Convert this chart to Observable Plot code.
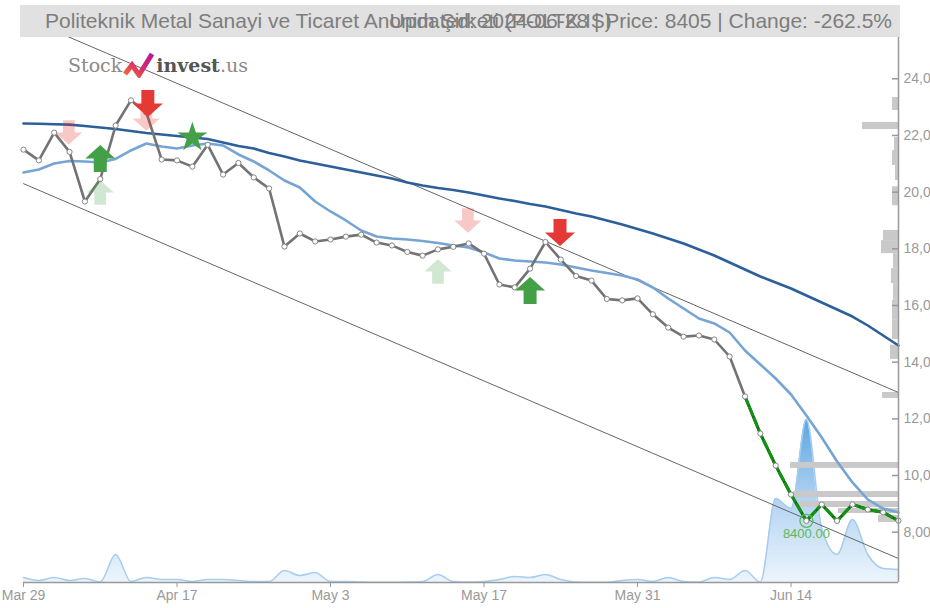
<!DOCTYPE html>
<html><head><meta charset="utf-8">
<script src="https://cdn.jsdelivr.net/npm/d3@7"></script>
<script src="https://cdn.jsdelivr.net/npm/@observablehq/plot@0.6"></script>
<style>
html,body{margin:0;padding:0;background:#fff;overflow:hidden;width:930px;height:608px;}
#wrap{position:relative;width:930px;height:608px;font-family:"Liberation Sans",Arial,sans-serif;}
#title{position:absolute;left:20px;top:5px;width:880px;height:32px;background:#e1e1e1;color:#7d7d7d;font-size:21px;line-height:32px;white-space:nowrap;overflow:hidden;}
#title .l{position:absolute;left:25px;top:0;}
#title .r{position:absolute;right:8px;top:0;}
#chart{position:absolute;left:0;top:37px;width:930px;height:571px;}
#chart svg.plot, #chart > svg{position:absolute;left:0;top:0;}
#logo{position:absolute;left:68px;top:50px;height:30px;white-space:nowrap;font-family:"DejaVu Serif",serif;font-size:19px;line-height:30px;}
#logo .s{color:#8a8a8a;}
#logo .i{color:#555;font-weight:bold;}
#logo svg{vertical-align:-6px;margin:0 1px;}
</style></head>
<body>
<div id="wrap">
  <div id="title"><span class="l">Politeknik Metal Sanayi ve Ticaret Anonim Şirketi (POLTK.IS)</span><span class="r">Updated: 2024-06-28 | Price: 8405 | Change: -262.5%</span></div>
  <div id="chart"></div>
  <div id="logo"><span class="s">Stock</span><svg width="32" height="26" viewBox="0 0 32 26"><defs><linearGradient id="lg" x1="0" x2="1" y1="1" y2="0"><stop offset="0" stop-color="#f26b3a"/><stop offset="0.5" stop-color="#d8286e"/><stop offset="1" stop-color="#b5179e"/></linearGradient></defs><polyline points="2,22 9,13 16,23 29,2" fill="none" stroke="url(#lg)" stroke-width="5" stroke-linejoin="miter"/></svg><span class="i">invest</span><span class="s">.us</span></div>
</div>
<script>
// ---- data ----
const tickIdx = [0, 10, 20, 30, 40, 50];
const tickLabels = ["Mar 29", "Apr 17", "May 3", "May 17", "May 31", "Jun 14"];
const yTicks = [8000, 10000, 12000, 14000, 16000, 18000, 20000, 22000, 24000];

const close = [21500, 21120, 22100, 21420, 19670, 20460, 22350, 23240, 22810, 21150,
  21120, 20900, 21670, 20620, 21030, 20520, 20130, 18080, 18540, 18260,
  18330, 18430, 18500, 18220, 18120, 17890, 17760, 17980, 18070, 18190,
  17830, 16740, 16640, 17300, 18240, 17620, 17040, 16880, 16230, 16180,
  16250, 15690, 15220, 14900, 14940, 14800, 14200, 12790, 11480, 10350,
  9330, 8400, 8980, 8400, 8980, 8800, 8700, 8405];

const maLong = [22423, 22412, 22398, 22381, 22335, 22282, 22229, 22158, 22088, 22035,
  21982, 21929, 21876, 21753, 21629, 21541, 21382, 21259, 21117, 21011,
  20906, 20800, 20694, 20588, 20482, 20341, 20235, 20147, 20076, 19988,
  19882, 19776, 19688, 19582, 19494, 19371, 19247, 19141, 19000, 18859,
  18700, 18541, 18364, 18188, 17976, 17764, 17517, 17270, 17023, 16811,
  16600, 16353, 16106, 15858, 15611, 15294, 14941, 14588];

const maShort = [20694, 20800, 21011, 21100, 21082, 21047, 21170, 21470, 21717, 21611,
  21541, 21647, 21717, 21647, 21329, 21082, 20764, 20411, 20164, 19670,
  19318, 19000, 18647, 18435, 18365, 18329, 18276, 18206, 18118, 18047,
  17871, 17659, 17588, 17553, 17518, 17447, 17341, 17236, 17147, 17059,
  16918, 16635, 16247, 15894, 15541, 15365, 15047, 14412, 13918, 13424,
  12859, 12118, 11342, 10495, 9754, 9154, 8836, 8695];

const volume = [50, 20, 50, 20, 40, 5, 280, 10, 50, 30,
  30, 10, 30, 30, 20, 10, 10, 120, 70, 100,
  10, 10, 5, 3, 3, 5, 10, 80, 10, 5,
  10, 30, 60, 50, 80, 30, 5, 3, 3, 20,
  30, 10, 50, 10, 5, 50, 30, 120, 5, 840,
  740, 1630, 540, 280, 630, 280, 140, 130];

const channelIdx = [0, 57];
const upperChannel = [26160, 12930];
const lowerChannel = [20300, 7070];

const greenFrom = 47;

const signalIdx = [2.95, 5.0, 5.0, 8.0, 8.1, 11.0, 28.95, 27.0, 34.95, 33.0];
const signalPrice = [22106, 21188, 19988, 22599, 23129, 21929, 19000, 17200, 18576, 16530];
const signalKind = ["sellWeak", "buy", "buyWeak", "sellWeak", "sell", "star", "sellWeak", "buyWeak", "sell", "buy"];

const profileLo = [22880, 22210, 21470, 20940, 20410, 19520, 18290, 17830, 17300, 16770, 16180, 15500, 14800, 14100, 12720, 10250, 9224, 8872, 8660, 8340];
const profileHi = [23340, 22460, 21930, 21470, 20940, 20190, 18650, 18290, 17830, 17300, 16770, 16180, 15500, 14600, 12930, 10460, 9436, 9083, 8836, 8590];
const profileVol = [6, 36, 4, 6, 3, 6, 15, 17, 5, 7, 5, 6, 6, 8, 16, 108, 105, 98, 60, 20];

const annIdx = 51, annPrice = 8400, annLabel = "8400.00";

// ---- build tables ----
const series = close.map((c, i) => ({i, c, l: maLong[i], s: maShort[i], v: volume[i]}));
const grayPart = series.filter(d => d.i <= greenFrom);
const greenPart = series.filter(d => d.i >= greenFrom);
const upper = channelIdx.map((i, k) => ({i, p: upperChannel[k]}));
const lower = channelIdx.map((i, k) => ({i, p: lowerChannel[k]}));
const signals = signalIdx.map((i, k) => ({i, p: signalPrice[k], kind: signalKind[k]}));
const profile = profileLo.map((lo, k) => ({lo, hi: profileHi[k], v: profileVol[k]}));

const W = 930, H = 571;
const yDomain = [6225, 25457];
const xDomain = [0, 57];
const common = {width: W, height: H, marginTop: 0, marginBottom: 26, marginLeft: 23, marginRight: 32};

const arrowDown = {draw(ctx, size) {
  const r = Math.sqrt(size / Math.PI);
  const hw = 1.5 * r, sw = 0.65 * r, top = -1.35 * r, mid = 0, tip = 1.35 * r;
  ctx.moveTo(-sw, top); ctx.lineTo(sw, top); ctx.lineTo(sw, mid); ctx.lineTo(hw, mid);
  ctx.lineTo(0, tip); ctx.lineTo(-hw, mid); ctx.lineTo(-sw, mid); ctx.closePath();
}};
const arrowUp = {draw(ctx, size) {
  const r = Math.sqrt(size / Math.PI);
  const hw = 1.5 * r, sw = 0.65 * r, top = -1.35 * r, mid = 0, bot = 1.35 * r;
  ctx.moveTo(0, top); ctx.lineTo(hw, mid); ctx.lineTo(sw, mid); ctx.lineTo(sw, bot);
  ctx.lineTo(-sw, bot); ctx.lineTo(-sw, mid); ctx.lineTo(-hw, mid); ctx.closePath();
}};

// volume layer
const volPlot = Plot.plot({
  ...common,
  style: {background: "white"},
  x: {domain: xDomain, axis: null},
  y: {domain: [0, 5450], axis: null},
  marks: [
    (index, scales) => {
      const defs = d3.create("svg:defs");
      const g = defs.append("linearGradient").attr("id", "volGrad")
        .attr("gradientUnits", "userSpaceOnUse")
        .attr("x1", 0).attr("x2", 0)
        .attr("y1", scales.y(d3.max(volume))).attr("y2", scales.y(0));
      g.append("stop").attr("offset", 0).attr("stop-color", "#5aa5e2");
      g.append("stop").attr("offset", 0.5).attr("stop-color", "#b4d4f1");
      g.append("stop").attr("offset", 1).attr("stop-color", "#edf5fc");
      return defs.node();
    },
    Plot.areaY(series, {x: "i", y: "v", curve: "monotone-x", fill: "url(#volGrad)"}),
    Plot.lineY(series, {x: "i", y: "v", curve: "monotone-x", stroke: "#a6cdef", strokeWidth: 1.5})
  ]
});

// volume-by-price layer
const profPlot = Plot.plot({
  ...common,
  style: {background: "transparent"},
  x: {domain: [0, 200], range: [898, 698], axis: null},
  y: {domain: yDomain, axis: null},
  marks: [
    Plot.rect(profile, {x1: 0, x2: "v", y1: "lo", y2: "hi", fill: "#c9c9c9"})
  ]
});

// main layer
const mainPlot = Plot.plot({
  ...common,
  style: {background: "transparent", fontFamily: "'Liberation Sans', Arial, sans-serif", fontSize: "14px"},
  x: {domain: xDomain, label: null},
  y: {domain: yDomain, label: null},
  marks: [
    Plot.line(upper, {x: "i", y: "p", stroke: "#666", strokeWidth: 1, clip: true}),
    Plot.line(lower, {x: "i", y: "p", stroke: "#666", strokeWidth: 1, clip: true}),
    Plot.line(series, {x: "i", y: "l", stroke: "#2d5f9b", strokeWidth: 2.6}),
    Plot.line(series, {x: "i", y: "s", stroke: "#76a4d5", strokeWidth: 2.6}),
    Plot.line(grayPart, {x: "i", y: "c", stroke: "#737373", strokeWidth: 2.6}),
    Plot.line(greenPart, {x: "i", y: "c", stroke: "#145f14", strokeWidth: 3}),
    Plot.line(greenPart, {x: "i", y: "c", stroke: "#119411", strokeWidth: 3, strokeDasharray: "8,4"}),
    Plot.dot(series, {x: "i", y: "c", r: 2.6, fill: "white", stroke: "#858585", strokeWidth: 1}),
    Plot.dot([annIdx], {x: d => d, y: () => annPrice, r: 6.5, stroke: "#5cb85c", strokeWidth: 1.3, fill: "none"}),
    Plot.text([annLabel], {x: () => annIdx, y: () => annPrice, dy: 13, text: d => d, fill: "#5cb85c", fontSize: 13}),
    Plot.dot(signals.filter(d => d.kind === "sellWeak"), {x: "i", y: "p", symbol: arrowDown, r: 9, fill: "#e53935", fillOpacity: 0.28}),
    Plot.dot(signals.filter(d => d.kind === "buyWeak"), {x: "i", y: "p", symbol: arrowUp, r: 9, fill: "#43a047", fillOpacity: 0.25}),
    Plot.dot(signals.filter(d => d.kind === "sell"), {x: "i", y: "p", symbol: arrowDown, r: 10, fill: "#e53935"}),
    Plot.dot(signals.filter(d => d.kind === "buy"), {x: "i", y: "p", symbol: arrowUp, r: 10, fill: "#43a047"}),
    Plot.dot(signals.filter(d => d.kind === "star"), {x: "i", y: "p", symbol: "star", r: 9.4, fill: "#43a047"}),
    Plot.ruleX([xDomain[1]], {stroke: "#999", strokeWidth: 1.5}),
    Plot.ruleY([yDomain[0]], {stroke: "#999", strokeWidth: 1.5}),
    Plot.ruleY(yTicks, {y: d => d, x1: xDomain[1], x2: xDomain[1], insetLeft: -6, stroke: "#999", strokeWidth: 1.5}),
    Plot.axisY(yTicks, {anchor: "right", label: null, tickSize: 0, tickPadding: 5, tickFormat: d3.format(","), color: "#999", fontSize: 14}),
    Plot.axisX(tickIdx, {anchor: "bottom", label: null, tickSize: 5, tickPadding: 3, tickFormat: i => tickLabels[tickIdx.indexOf(i)], color: "#999", fontSize: 14})
  ]
});

const chart = document.getElementById("chart");
chart.append(volPlot, profPlot, mainPlot);
</script>
</body></html>
